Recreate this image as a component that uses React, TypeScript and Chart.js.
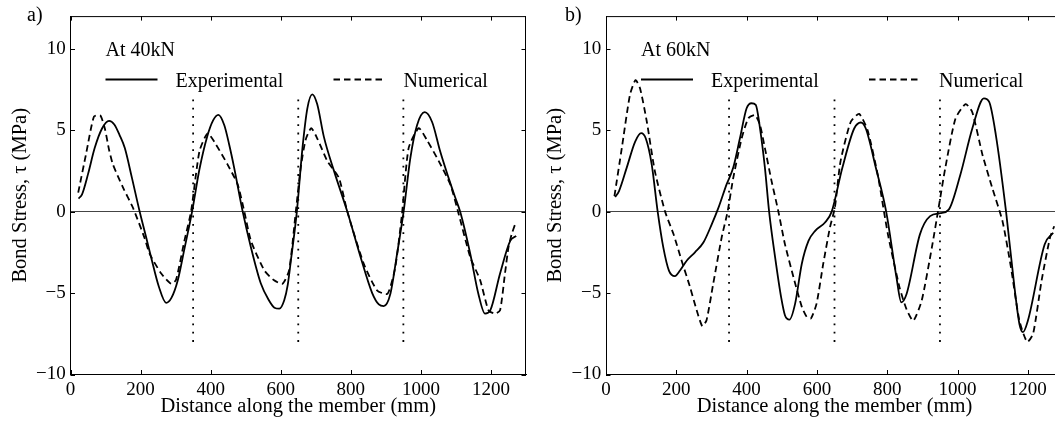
import React, { useEffect, useRef } from 'react';
import { Chart, registerables } from 'chart.js';

Chart.register(...registerables);

const FONT = '"Liberation Serif", "Times New Roman", Times, serif';

// ---- axes / ticks ----
const xTickValues = [0, 200, 400, 600, 800, 1000, 1200];
const yTickValues = [-10, -5, 0, 5, 10];
const xRange = [0, 1300];
const yRange = [-10, 12];

// ---- dotted dividers ----
const dividerX = [350, 650, 950];
const dividerY = [-8, 7];

// ---- panel a) At 40kN ----
const expA_x = [23, 33, 50, 69, 90, 110, 125, 140, 155, 175, 197, 215, 230, 252, 273, 288, 306, 325, 347, 368, 390, 407, 422, 439, 453, 467, 491, 515, 543, 565, 582, 596, 610, 620, 629, 646, 662, 676, 690, 704, 723, 752, 790, 828, 861, 880, 894, 913, 932, 951, 970, 989, 1011, 1032, 1055, 1079, 1098, 1112, 1141, 1164, 1183, 1198, 1226, 1255, 1272];
const expA_y = [0.8, 1.06, 2.3, 3.9, 5.1, 5.57, 5.35, 4.7, 3.9, 2.1, 0.04, -1.5, -2.8, -4.6, -5.6, -5.3, -4.23, -2.3, 0.0, 2.6, 4.6, 5.6, 5.94, 5.3, 4.1, 2.7, 0.04, -2.2, -4.4, -5.4, -5.9, -5.96, -5.44, -4.5, -3.0, 0.0, 3.9, 6.34, 7.2, 6.6, 4.6, 2.5, 0.0, -2.8, -5.0, -5.7, -5.8, -5.04, -2.6, 0.04, 3.3, 5.3, 6.1, 5.5, 3.7, 2.07, 0.86, 0.0, -2.6, -5.04, -6.26, -6.06, -3.8, -1.8, -1.5];

const numA_x = [22, 45, 67, 85, 98, 110, 121, 150, 178, 211, 226, 259, 287, 301, 325, 344, 368, 391, 410, 448, 477, 496, 515, 553, 580, 605, 624, 643, 657, 671, 687, 704, 733, 766, 790, 837, 875, 905, 927, 946, 965, 994, 1017, 1051, 1084, 1108, 1141, 1169, 1193, 1212, 1226, 1240, 1250, 1259, 1269];
const numA_y = [1.16, 3.6, 5.84, 5.9, 5.1, 3.8, 2.9, 1.47, 0.25, -1.6, -2.6, -3.8, -4.43, -4.2, -1.8, 0.0, 3.7, 4.8, 4.3, 2.9, 1.67, 0.0, -1.8, -3.6, -4.2, -4.43, -3.6, 0.0, 2.7, 4.4, 5.12, 4.5, 3.1, 2.07, 0.0, -3.2, -4.84, -5.04, -3.4, -0.16, 3.9, 5.12, 4.4, 3.1, 1.67, -0.16, -2.8, -4.2, -6.06, -6.26, -6.06, -3.8, -2.2, -1.4, -0.77];

// ---- panel b) At 60kN ----
const expB_x = [26, 37, 59, 83, 100, 113, 130, 147, 163, 179, 196, 211, 230, 253, 277, 301, 320, 343, 362, 381, 400, 414, 426, 438, 452, 464, 481, 498, 509, 522, 538, 557, 576, 595, 623, 642, 672, 706, 725, 739, 768, 797, 826, 840, 855, 893, 922, 951, 975, 1008, 1042, 1075, 1090, 1109, 1138, 1162, 1176, 1186, 1200, 1248, 1272];
const expB_y = [0.9, 1.26, 2.7, 4.3, 4.82, 4.5, 2.9, 0.0, -2.2, -3.62, -3.96, -3.6, -3.0, -2.5, -1.9, -0.77, 0.24, 1.67, 2.7, 4.5, 6.34, 6.65, 6.55, 5.12, 2.7, 0.0, -2.8, -5.24, -6.36, -6.63, -5.65, -3.2, -1.8, -1.18, -0.67, 0.0, 2.66, 5.1, 5.47, 5.1, 2.66, 0.0, -4.0, -5.57, -5.06, -1.4, -0.28, -0.1, 0.12, 2.26, 5.1, 6.95, 6.73, 4.7, 0.0, -4.65, -6.9, -7.4, -6.7, -2.0, -1.3];

const numB_x = [24, 45, 68, 84, 97, 116, 139, 168, 192, 215, 239, 258, 274, 286, 305, 329, 346, 362, 386, 405, 424, 438, 452, 471, 490, 509, 533, 557, 571, 583, 599, 618, 637, 651, 667, 696, 720, 744, 773, 802, 835, 855, 874, 898, 927, 946, 965, 994, 1023, 1042, 1071, 1099, 1128, 1152, 1176, 1198, 1215, 1239, 1263, 1275];
const numB_y = [0.95, 3.9, 7.15, 8.07, 7.56, 5.53, 2.48, 0.0, -1.38, -3.0, -4.63, -6.06, -7.03, -6.67, -4.43, -1.59, 0.0, 2.07, 4.5, 5.73, 5.93, 5.32, 3.9, 1.87, 0.04, -2.0, -4.0, -5.85, -6.46, -6.56, -5.65, -3.2, -0.98, 0.24, 3.07, 5.5, 6.0, 5.0, 2.26, -1.4, -4.65, -6.0, -6.7, -5.47, -2.2, 0.22, 2.66, 5.7, 6.6, 6.1, 3.48, 1.44, -0.6, -3.43, -6.7, -8.0, -7.5, -4.25, -1.6, -0.9];

const seriesLabels = ['Experimental', 'Numerical'];
const xTitle = 'Distance along the member (mm)';
const yTitle = 'Bond Stress, \u03c4 (MPa)';

const SOLID_W = 1.8;
const DASH = [6.5, 4];
const DOT = [1.8, 6.5];

interface PanelSpec {
  key: string;
  panelLabel: string;
  loadText: string;
  expX: number[];
  expY: number[];
  numX: number[];
  numY: number[];
  canvasWidth: number;
  axisWidth: number;
  padRight: number;
  yTitlePad: number;
  panelLabelX: number;
}

const toPts = (xs: number[], ys: number[]) => xs.map((x, i) => ({ x, y: ys[i] }));
const fmt = (v: number) => String(v).replace('-', '\u2212');

function overlayPlugin(spec: PanelSpec) {
  return {
    id: 'overlay_' + spec.key,
    afterDraw(chart: any) {
      const { ctx } = chart;
      const { left, right, top, bottom } = chart.chartArea;
      const xs = chart.scales.x;
      const ys = chart.scales.y;
      ctx.save();
      ctx.strokeStyle = '#000';
      ctx.lineWidth = 1;
      ctx.setLineDash([]);
      // top and right border
      ctx.beginPath();
      ctx.moveTo(Math.round(left), top + 0.5);
      ctx.lineTo(Math.round(right), top + 0.5);
      ctx.moveTo(Math.round(right) - 0.5, top);
      ctx.lineTo(Math.round(right) - 0.5, bottom);
      ctx.stroke();
      // inward ticks
      const TL = 4.5;
      ctx.beginPath();
      xTickValues.forEach((v) => {
        const px = Math.round(xs.getPixelForValue(v)) + 0.5;
        ctx.moveTo(px, bottom);
        ctx.lineTo(px, bottom - TL);
        ctx.moveTo(px, top);
        ctx.lineTo(px, top + TL);
      });
      yTickValues.forEach((v) => {
        const py = Math.round(ys.getPixelForValue(v)) + 0.5;
        ctx.moveTo(left, py);
        ctx.lineTo(left + TL, py);
        ctx.moveTo(right, py);
        ctx.lineTo(right - TL, py);
      });
      ctx.stroke();

      // panel label
      ctx.fillStyle = '#000';
      ctx.textBaseline = 'alphabetic';
      ctx.textAlign = 'left';
      ctx.font = `20px ${FONT}`;
      ctx.fillText(spec.panelLabel, spec.panelLabelX, 20.5);

      // load text and legend
      ctx.fillText(spec.loadText, left + 35, 55.5);
      const ly = 79.5;
      ctx.lineWidth = SOLID_W;
      ctx.beginPath();
      ctx.moveTo(left + 35, ly);
      ctx.lineTo(left + 87, ly);
      ctx.stroke();
      ctx.fillText(seriesLabels[0], left + 105, 86.5);
      ctx.setLineDash(DASH);
      ctx.beginPath();
      ctx.moveTo(left + 263, ly);
      ctx.lineTo(left + 315, ly);
      ctx.stroke();
      ctx.setLineDash([]);
      ctx.fillText(seriesLabels[1], left + 333, 86.5);
      ctx.restore();
    },
  };
}

function buildConfig(spec: PanelSpec): any {
  const datasets: any[] = [
    {
      label: seriesLabels[0],
      data: toPts(spec.expX, spec.expY),
      borderColor: '#000',
      borderWidth: SOLID_W,
      pointRadius: 0,
      cubicInterpolationMode: 'monotone',
      fill: false,
    },
    {
      label: seriesLabels[1],
      data: toPts(spec.numX, spec.numY),
      borderColor: '#000',
      borderWidth: SOLID_W,
      borderDash: DASH,
      pointRadius: 0,
      tension: 0.2,
      fill: false,
    },
    ...dividerX.map((x) => ({
      label: 'divider',
      data: [
        { x, y: dividerY[0] },
        { x, y: dividerY[1] },
      ],
      borderColor: '#000',
      borderWidth: 1.8,
      borderDash: DOT,
      pointRadius: 0,
      fill: false,
    })),
  ];

  return {
    type: 'line',
    data: { datasets },
    options: {
      animation: false,
      responsive: false,
      devicePixelRatio: 1,
      events: [],
      layout: { padding: { top: 14, right: spec.padRight, left: 0, bottom: 0 } },
      plugins: { legend: { display: false }, tooltip: { enabled: false }, title: { display: false } },
      scales: {
        x: {
          type: 'linear',
          min: xRange[0],
          max: xRange[1],
          afterBuildTicks: (s: any) => {
            s.ticks = xTickValues.map((v) => ({ value: v }));
          },
          afterFit: (s: any) => {
            s.height = 47.5;
          },
          grid: { display: false, drawTicks: false },
          border: { display: true, color: '#000', width: 1 },
          ticks: {
            font: { family: FONT, size: 19 },
            color: '#000',
            padding: 4.4,
            maxRotation: 0,
            autoSkip: false,
            callback: (v: any) => fmt(v),
          },
          title: {
            display: true,
            text: xTitle,
            color: '#000',
            font: { family: FONT, size: 20.5 },
            padding: { top: 0, bottom: 3.3 },
          },
        },
        y: {
          type: 'linear',
          min: yRange[0],
          max: yRange[1],
          afterBuildTicks: (s: any) => {
            s.ticks = yTickValues.map((v) => ({ value: v }));
          },
          afterFit: (s: any) => {
            s.width = spec.axisWidth;
          },
          grid: {
            display: true,
            drawTicks: false,
            color: (c: any) => (c.tick && c.tick.value === 0 ? '#444' : 'rgba(0,0,0,0)'),
            lineWidth: 1,
          },
          border: { display: true, color: '#000', width: 1 },
          ticks: {
            font: { family: FONT, size: 19 },
            color: '#000',
            padding: 4.7,
            autoSkip: false,
            callback: (v: any) => fmt(v),
          },
          title: {
            display: true,
            text: yTitle,
            color: '#000',
            font: { family: FONT, size: 20.5 },
            padding: { top: spec.yTitlePad, bottom: 0 },
          },
        },
      },
    },
    plugins: [overlayPlugin(spec)],
  };
}

const panelA: PanelSpec = {
  key: 'a',
  panelLabel: 'a)',
  loadText: 'At 40kN',
  expX: expA_x,
  expY: expA_y,
  numX: numA_x,
  numY: numA_y,
  canvasWidth: 527,
  axisWidth: 70.5,
  padRight: 1,
  yTitlePad: 7.9,
  panelLabelX: 27,
};

const panelB: PanelSpec = {
  key: 'b',
  panelLabel: 'b)',
  loadText: 'At 60kN',
  expX: expB_x,
  expY: expB_y,
  numX: numB_x,
  numY: numB_y,
  canvasWidth: 540,
  axisWidth: 79,
  padRight: 4,
  yTitlePad: 16.2,
  panelLabelX: 38,
};

function Panel({ spec, left }: { spec: PanelSpec; left: number }) {
  const ref = useRef<HTMLCanvasElement>(null);
  useEffect(() => {
    if (!ref.current) return;
    const chart = new Chart(ref.current, buildConfig(spec));
    return () => chart.destroy();
  }, [spec]);
  return (
    <canvas
      ref={ref}
      width={spec.canvasWidth}
      height={422}
      style={{ position: 'absolute', left, top: 0, width: spec.canvasWidth, height: 422, display: 'block' }}
    />
  );
}

export default function App() {
  return (
    <div
      style={{
        position: 'absolute',
        left: 0,
        top: 0,
        width: 1055,
        height: 422,
        overflow: 'hidden',
        background: '#fff',
      }}
    >
      <Panel spec={panelA} left={0} />
      <Panel spec={panelB} left={527} />
    </div>
  );
}
